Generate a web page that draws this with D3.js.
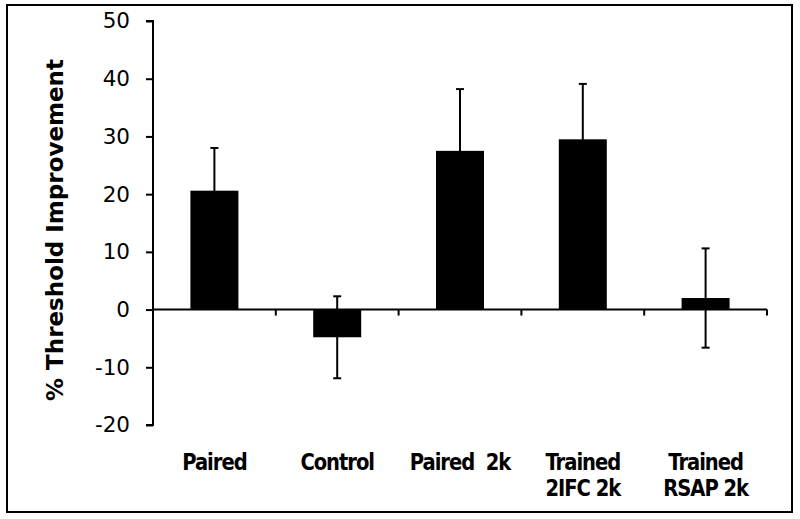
<!DOCTYPE html>
<html><head><meta charset="utf-8">
<script src="https://cdn.jsdelivr.net/npm/d3@7"></script>
<style>
html,body{margin:0;padding:0;background:#fff;}
svg{display:block;}
</style></head>
<body>
<script>
const categories = [["Paired"], ["Control"], ["Paired  2k"], ["Trained", "2IFC 2k"], ["Trained", "RSAP 2k"]];
const values = [20.6, -4.8, 27.5, 29.5, 2.0];
const errors = [7.4, 7.1, 10.7, 9.6, 8.6];
const yTicks = [-20, -10, 0, 10, 20, 30, 40, 50];
const yTitle = "% Threshold Improvement";

const W = 800, H = 519;
const svg = d3.select("body").append("svg").attr("width", W).attr("height", H);

svg.append("rect").attr("x", 7).attr("y", 5).attr("width", 785).attr("height", 507)
  .attr("fill", "#fff").attr("stroke", "#000").attr("stroke-width", 2);

const x0 = 153, x1 = 767;
const y = d3.scaleLinear().domain([-20, 50]).range([425, 21]);
const x = d3.scaleBand().domain(d3.range(categories.length)).range([x0, x1]).paddingInner(0).paddingOuter(0);
const barW = 48;

// bars
svg.append("g").selectAll("rect").data(values).join("rect")
  .attr("x", (d, i) => x(i) + x.bandwidth() / 2 - barW / 2)
  .attr("width", barW)
  .attr("y", d => y(Math.max(0, d)))
  .attr("height", d => Math.abs(y(d) - y(0)))
  .attr("fill", "#000");

// error bars
const eg = svg.append("g").attr("stroke", "#000").attr("stroke-width", 2);
values.forEach((v, i) => {
  const cx = x(i) + x.bandwidth() / 2;
  const hi = v + errors[i], lo = v - errors[i];
  eg.append("line").attr("x1", cx).attr("x2", cx).attr("y1", y(lo)).attr("y2", y(hi));
  eg.append("line").attr("x1", cx - 4).attr("x2", cx + 4).attr("y1", y(hi)).attr("y2", y(hi));
  if (lo < 0) {
    eg.append("line").attr("x1", cx - 4).attr("x2", cx + 4).attr("y1", y(lo)).attr("y2", y(lo));
  }
});

// y axis
const yAxis = d3.axisLeft(y).tickValues(yTicks).tickSize(7).tickPadding(16).tickFormat(d => String(d));
const gy = svg.append("g").attr("transform", `translate(${x0},0)`).call(yAxis);
gy.select(".domain").attr("stroke-width", 2).attr("d", `M-7,${y(50)}H0V${y(-20)}H-7`);
gy.selectAll(".tick line").attr("stroke-width", 2);
gy.selectAll(".tick text").attr("font-family", "DejaVu Sans, Verdana, sans-serif").attr("font-size", 21.5).attr("fill", "#000");

// x axis at zero
const gx = svg.append("g").attr("transform", `translate(0,${y(0)})`);
gx.append("line").attr("x1", x0).attr("x2", x1).attr("y1", 0).attr("y2", 0).attr("stroke", "#000").attr("stroke-width", 2);
gx.selectAll("line.tk").data(d3.range(1, categories.length + 1)).join("line").attr("class", "tk")
  .attr("x1", i => x0 + i * x.bandwidth()).attr("x2", i => x0 + i * x.bandwidth())
  .attr("y1", 0).attr("y2", 6).attr("stroke", "#000").attr("stroke-width", 2);

// category labels
const lg = svg.append("g").attr("font-family", "DejaVu Sans, Verdana, sans-serif").attr("font-weight", "bold")
  .attr("font-size", 23).attr("letter-spacing", -1.2).attr("text-anchor", "middle").attr("fill", "#000");
categories.forEach((lines, i) => {
  const t = lg.append("text")
    .attr("transform", `translate(${x(i) + x.bandwidth() / 2},470) scale(0.85,1)`)
    .style("white-space", "pre");
  lines.forEach((ln, j) => {
    t.append("tspan").attr("x", 0).attr("dy", j === 0 ? 0 : 26).text(ln);
  });
});

// y title
svg.append("text").attr("transform", `translate(63,230) rotate(-90)`)
  .attr("text-anchor", "middle").attr("font-family", "DejaVu Sans, Verdana, sans-serif")
  .attr("font-weight", "bold").attr("font-size", 23).attr("fill", "#000").text(yTitle);
</script>
</body></html>
